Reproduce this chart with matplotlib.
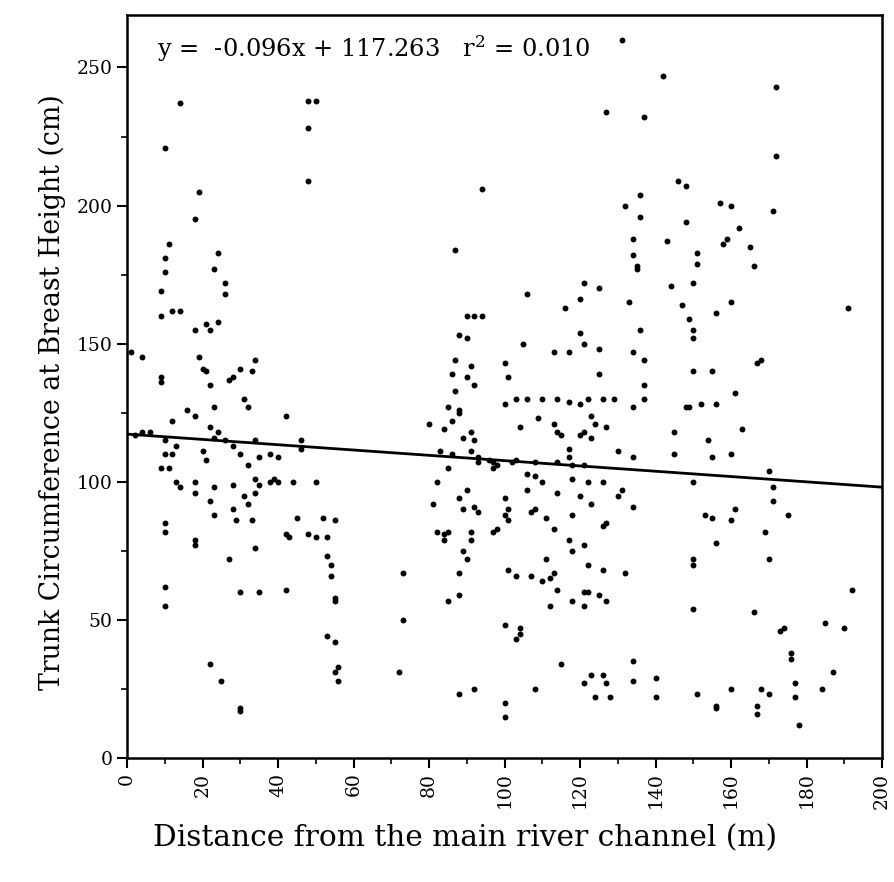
import matplotlib
matplotlib.use("Agg")
import matplotlib.pyplot as plt
from matplotlib.ticker import MultipleLocator
import numpy as np

# Data: distance (m), trunk circumference (cm)
dist = [
    1, 4, 2, 4, 6,
    9, 9, 10, 10, 11, 10, 12, 14, 14,
    9, 9, 10, 10, 11, 9, 10, 10, 10, 10,
    12, 13, 12, 13, 14,
    16, 18, 18, 18, 19, 19, 20, 21, 20, 21, 18, 18, 18, 18,
    21, 22, 23, 24, 24, 22, 23, 24, 22, 23, 23, 22, 23, 22, 25,
    26, 26, 27, 28, 26, 28, 28, 28, 27, 29,
    30, 31, 32, 30, 32, 31, 32, 30, 30, 30,
    33, 34, 34, 35, 35, 34, 34, 33, 34, 35,
    38, 39, 38, 40, 40, 42, 42, 43, 44, 42,
    46, 46, 45,
    48, 50, 48, 48, 48, 50, 50,
    52, 53, 53, 54, 55, 54, 55, 55, 53, 55, 56, 55, 56,
    72, 73, 73,
    80, 82, 81, 82, 84, 84, 83, 84, 85, 86, 86, 85, 85, 85,
    87, 88, 87, 86, 87, 88, 88, 89, 88, 90, 89, 89, 88, 88, 88,
    90, 92, 90, 91, 90, 92, 91, 91, 92, 93, 93, 92, 93, 91, 91, 90, 92, 94, 94,
    96, 97, 98, 97, 97, 98,
    100, 101, 100, 100, 101, 100, 101, 101, 100, 100, 100,
    103, 104, 103, 102, 103, 104, 104, 103,
    105, 106, 106, 106, 106, 107, 107, 108, 108, 108, 108,
    109, 110, 110, 111, 111, 112, 112, 110,
    113, 114, 115, 113, 114, 114, 114, 113, 113, 114, 115,
    116, 117, 117, 117, 117, 118, 118, 118, 117, 118, 118,
    120, 121, 120, 121, 120, 121, 120, 121, 122, 120, 121, 121, 121, 121,
    122, 123, 124, 123, 123, 122, 122, 123, 124,
    125, 125, 125, 126, 127, 126, 127, 126, 126, 125, 127, 126,
    127, 127, 128,
    129, 131, 130, 130, 131, 132, 132,
    133, 134, 134, 135, 135, 134, 134, 134, 134, 134, 134,
    136, 136, 137, 136, 137, 137, 137,
    140, 140, 142, 143, 144,
    145, 145, 146, 147, 148, 148, 148,
    149, 149, 150, 150, 150, 150, 150, 151, 151, 150, 150, 150, 151,
    152, 153, 154, 155, 155, 156, 156, 155, 156, 156, 156,
    157, 158, 159, 160, 160, 160, 161, 160, 161, 160,
    162, 163, 165, 166, 166, 167, 168, 167, 167,
    168, 169, 170, 170, 170, 171, 171, 171, 172, 172,
    173, 174, 175, 176, 176, 177, 178, 177,
    184, 185, 187, 190, 191, 192,
]
circ = [
    147, 145, 117, 118, 118,
    169, 160, 181, 176, 186, 221, 162, 162, 237,
    138, 136, 115, 110, 105, 105, 85, 82, 62, 55,
    122, 113, 110, 100, 98,
    126, 124, 155, 195, 205, 145, 141, 140, 111, 108, 100, 96, 79, 77,
    157, 155, 177, 183, 158, 135, 127, 118, 120, 116, 98, 93, 88, 34, 28,
    172, 168, 137, 138, 115, 113, 99, 90, 72, 86,
    141, 130, 127, 110, 106, 95, 92, 60, 18, 17,
    140, 144, 115, 109, 99, 101, 96, 86, 76, 60,
    110, 101, 100, 109, 100, 124, 81, 80, 100, 61,
    115, 112, 87,
    238, 238, 228, 209, 81, 100, 80,
    87, 80, 73, 70, 86, 66, 58, 57, 44, 42, 33, 31, 28,
    31, 50, 67,
    121, 100, 92, 82, 81, 79, 111, 119, 127, 122, 110, 105, 82, 57,
    184, 153, 144, 139, 133, 126, 125, 116, 94, 97, 90, 75, 67, 59, 23,
    160, 160, 152, 142, 138, 135, 118, 111, 115, 109, 107, 91, 89, 82, 79, 72, 25, 206, 160,
    108, 107, 106, 105, 82, 83,
    143, 138, 128, 94, 90, 88, 86, 68, 48, 20, 15,
    130, 120, 108, 107, 66, 47, 45, 43,
    150, 168, 130, 103, 97, 89, 66, 90, 107, 102, 25,
    123, 130, 100, 87, 72, 65, 55, 64,
    147, 130, 117, 121, 118, 107, 96, 83, 67, 61, 34,
    163, 147, 129, 112, 109, 106, 101, 88, 79, 75, 57,
    166, 172, 154, 150, 128, 118, 117, 106, 100, 95, 77, 60, 55, 27,
    130, 124, 121, 116, 92, 70, 60, 30, 22,
    170, 148, 139, 130, 120, 100, 85, 84, 68, 59, 57, 30,
    234, 27, 22,
    130, 260, 111, 95, 97, 67, 200,
    165, 188, 182, 178, 177, 147, 127, 109, 91, 35, 28,
    204, 196, 232, 155, 135, 130, 144,
    29, 22, 247, 187, 171,
    118, 110, 209, 164, 127, 207, 194,
    159, 127, 172, 155, 152, 140, 100, 179, 183, 72, 70, 54, 23,
    128, 88, 115, 109, 140, 161, 128, 87, 78, 19, 18,
    201, 186, 188, 200, 165, 110, 90, 86, 132, 25,
    192, 119, 185, 178, 53, 143, 144, 19, 16,
    25, 82, 104, 72, 23, 198, 98, 93, 218, 243,
    46, 47, 88, 36, 38, 27, 12, 22,
    25, 49, 31, 47, 163, 61,
]

slope = -0.096
intercept = 117.263
equation = "y =  -0.096x + 117.263   r$^2$ = 0.010"
x_label = "Distance from the main river channel (m)"
y_label = "Trunk Circumference at Breast Height (cm)"

plt.rcParams['font.family'] = ['DejaVu Serif']
plt.rcParams['mathtext.fontset'] = 'dejavuserif'

fig = plt.figure(figsize=(8.94, 8.82), dpi=100)
ax = fig.add_axes([127/894, 1-758/882, (882-127)/894, (758-15)/882])

ax.scatter(dist, circ, s=18, color='black', zorder=3, linewidths=0)
xl = np.array([0, 200])
ax.plot(xl, slope*xl + intercept, color='black', lw=2.0, zorder=2)

ax.set_xlim(0, 200)
ax.set_ylim(0, 269)
ax.xaxis.set_major_locator(MultipleLocator(20))
ax.xaxis.set_minor_locator(MultipleLocator(10))
ax.yaxis.set_major_locator(MultipleLocator(50))
ax.yaxis.set_minor_locator(MultipleLocator(25))
ax.tick_params(which='major', direction='out', length=7, width=1.5, labelsize=13.5)
ax.tick_params(which='minor', direction='out', length=4, width=1.2)
ax.tick_params(axis='x', labelrotation=90)
for s in ax.spines.values():
    s.set_linewidth(1.8)

ax.text(0.04, 0.975, equation, transform=ax.transAxes, fontsize=17.4, va='top', ha='left')
ax.set_xlabel(x_label, fontsize=21.3)
ax.xaxis.set_label_coords((465-127)/755, -(838-758)/743, transform=ax.transAxes)
ax.xaxis.label.set_va('center')
ax.set_ylabel(y_label, fontsize=19.3)
ax.yaxis.set_label_coords(-(127-52)/755, (758-392)/743, transform=ax.transAxes)
ax.yaxis.label.set_va('center')

fig.savefig("out.png", dpi=100)
